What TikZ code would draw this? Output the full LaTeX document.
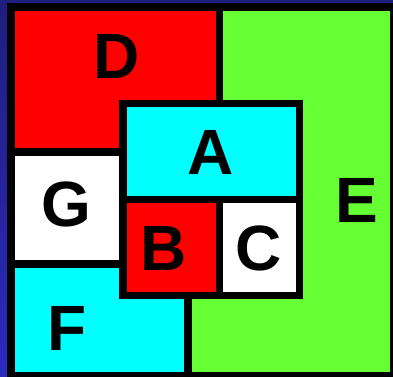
\documentclass[tikz,border=0pt]{standalone}
\usepackage{fontspec}
\setmainfont{Liberation Sans}
\usepackage{tikz}
\definecolor{mapblue}{HTML}{1E1E7E}
\definecolor{mapblueb}{HTML}{2A2ABE}
\definecolor{mapred}{HTML}{FF0000}
\definecolor{mapgreen}{HTML}{66FF33}
\definecolor{mapcyan}{HTML}{00FFFF}
\tikzset{
  wall/.style={black,line width=7.5pt},
  letter/.style={font=\fontsize{64}{64}\selectfont\bfseries,inner sep=0pt}
}

\begin{document}
\begin{tikzpicture}[x=1pt,y=-1pt]
    \useasboundingbox (0,0) rectangle (393,376);
    \shade[top color=mapblue,bottom color=mapblueb] (0,0) rectangle (393,376);
    % regions
    \fill[mapgreen] (11,7) rectangle (394,376);
    \fill[mapred] (11,7) rectangle (219.5,152);
    \fill[white] (11,152) rectangle (123,264);
    \fill[mapcyan] (11,264) -- (123,264) -- (123,295.5) -- (188,295.5) -- (188,376) -- (11,376) -- cycle;
    \fill[mapcyan] (123,103.5) rectangle (299.5,199.5);
    \fill[mapred] (123,199.5) rectangle (219.5,295.5);
    \fill[white] (219.5,199.5) rectangle (299.5,295.5);
    % borders
    \draw[wall,line width=8pt] (11,7) rectangle (394,376);
    \draw[wall] (219.5,7) -- (219.5,103.5);
    \draw[wall] (123,103.5) rectangle (299.5,295.5);
    \draw[wall] (123,199.5) -- (299.5,199.5);
    \draw[wall] (219.5,199.5) -- (219.5,295.5);
    \draw[wall] (11,152) -- (123,152);
    \draw[wall] (11,264) -- (123,264);
    \draw[wall] (188,295.5) -- (188,376);
    % labels
    \node[letter] (d) at (116.5,56) {D};
    \node[letter] (a) at (211,152) {A};
    \node[letter] (g) at (66.5,204) {G};
    \node[letter] (e) at (356.5,200.5) {E};
    \node[letter] (b) at (164,248.5) {B};
    \node[letter] (c) at (259,248) {C};
    \node[letter] (f) at (67,328.5) {F};
\end{tikzpicture}
\end{document}
